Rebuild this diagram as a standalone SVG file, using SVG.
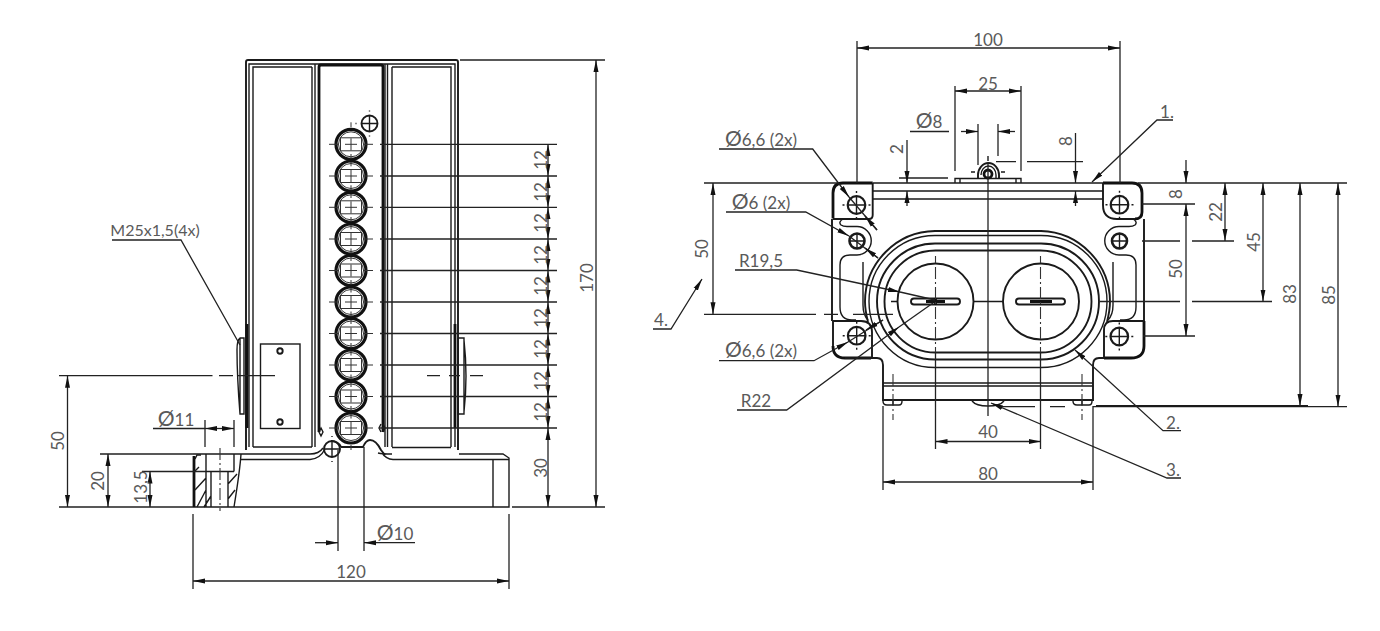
<svg xmlns="http://www.w3.org/2000/svg" xmlns:xlink="http://www.w3.org/1999/xlink" width="1380" height="631" viewBox="0 0 1380 631">
<style>
.l{fill:none;stroke:#1a1a1a;stroke-width:1.4}
.n{fill:none;stroke:#333;stroke-width:1}
.t{fill:none;stroke:#111;stroke-width:2.8}
.m{fill:none;stroke:#1a1a1a;stroke-width:1.9}
.d{fill:none;stroke:#222;stroke-width:1.3}
.a{marker-end:url(#ar)}
.b{marker-start:url(#ar);marker-end:url(#ar)}
.c{fill:none;stroke:#333;stroke-width:1.1;stroke-dasharray:12 3 2 3}
text{font-family:"Lato","Liberation Sans",sans-serif;font-size:17px;fill:#5a5a5a;text-anchor:middle}
.o{font-size:21px}
.s{font-size:16px}
</style>
<defs>
<marker id="ar" markerUnits="userSpaceOnUse" markerWidth="13" markerHeight="7" refX="12" refY="3.500" orient="auto-start-reverse"><path d="M0 1L12 3.500L0 6z" fill="#111"/></marker>
<g id="slot"><circle r="15" class="t" style="stroke-width:3.200"/><circle r="12.500" class="n"/><rect x="-10.500" y="-6.500" width="21" height="13" class="n"/><path d="M-22 0H-12M-6 0H6M12 0H22M0-22V-17M0-6V6M0 17V22" class="n"/></g>
<g id="h9"><circle r="8.800" class="m" style="stroke-width:2.200"/><path d="M-8.500 0H8.500M0-8.500V8.500" class="l"/><path d="M-14 0H-12M12 0H14M0-14V-12M0 12V14" class="l"/></g>
<g id="h7"><circle r="7.500" class="m" style="stroke-width:2.600"/><path d="M-7.500 0H7.500M0-7.500V7.500" class="l"/></g>
</defs>

<g id="side-view">
<path class="m" d="M246 450V62Q246 60 248 60H456Q458 60 458 62V450"/>
<path class="l" d="M249 447V64H455V447M253 447V67H312M392 67H451V447M312 67V447M315 64V447M385 64V447M387.500 64V447M392 67V447"/>
<path class="t" d="M319 432V67Q319 65 321 65H381Q383 65 383 67V432"/>
<path class="l" d="M253 447H312M392 447.500H451"/>
<path class="l" d="M193 454H310Q319 454 323 448M241 459.500H310Q320 459 325 449M382 453Q386 459 393 459.500H509M378 453Q382 454 392 454M459 454H503L509 458V507H193M493 459V507"/>
<path class="l" d="M319 432L321 428L323 432L321 436zM381 432L379 428L381 424M383 424L385 428L383 432"/>
<path class="m" d="M341 447Q346 447 351 447Q358 447 363 447Q366 440 370 440Q376 440 381 450L385 455M341 447Q338 441 331 441"/>
<use xlink:href="#slot" x="351" y="144.300"/><use xlink:href="#slot" x="351" y="176"/><use xlink:href="#slot" x="351" y="207.300"/><use xlink:href="#slot" x="351" y="239"/><use xlink:href="#slot" x="351" y="270.500"/><use xlink:href="#slot" x="351" y="302"/><use xlink:href="#slot" x="351" y="333.500"/><use xlink:href="#slot" x="351" y="365"/><use xlink:href="#slot" x="351" y="396.500"/><use xlink:href="#slot" x="351" y="428"/>
<g transform="translate(369.500 123.500)"><circle r="8" class="m"/><path d="M-8 0H8M0-8V8M0-13V-12M0 12V13M-14 0H-13" class="l"/></g>
<g transform="translate(332 449)"><circle r="8" class="m"/><path d="M-8 0H8M0-8V8M0-13V-12M0 12V13" class="l"/></g>
<rect x="260.500" y="344" width="39.500" height="84.500" class="l"/>
<circle cx="280" cy="351" r="2.700" class="m"/><circle cx="280" cy="422" r="2.700" class="m"/>
<path class="t" d="M247 324V428M455 324V428"/>
<path class="l" d="M240 338H244V414H240Q237 376 237 350Q237 340 240 338ZM240 338V414M458 338H464V414H458V338M464 340Q468 376 464 412"/>
<path class="t" d="M194 456V507"/>
<path class="l" d="M195 459L197 455H201M206 454V507M234 454V471.500M206 471.500H234M211 471.500V507M228 471.500V507M241 454Q240 470 234 507M199 467L195 471M206 478L195 490M206 490L197 507M211 496L204 507M237 474L228 484M235 490L228 499"/>
<path class="c" d="M220 448V511"/>
</g>

<g id="plan-view">
<path class="l" d="M872.700 183H1103M872.700 191H1103M872.700 199H1103M955 183V178.500H1021V183M960 179V183M1016 179V183"/>
<path class="t" d="M833 193Q833 183 843 183H872.700M1103 183H1132Q1142 183 1142 193V212Q1142 219 1135 219M833 193V218.500M833 346Q833 358 845 358H871M1104 358H1131Q1144 358 1144 346V321"/>
<path class="m" d="M833 219H869Q872.700 219 872.700 215V183M1103 183V205Q1103 219 1117 219H1135M833 321H861Q872 321 872 332V358H845M833 321V346M1104 358V330Q1104 321 1113 321H1144"/>
<path class="m" d="M832 219V321M1144 219V321"/>
<path class="l" d="M843 219Q838 222 841 225Q843 226.500 847 226.500H857A14 14 0 0 1 857 255H850Q840 255 840 265V307Q840 320 852 320H856M863 262V305Q863 315 868 320M1133 219Q1138 222 1135 225Q1133 226.500 1129 226.500H1119A14 14 0 0 0 1119 255H1126Q1136 255 1136 265V307Q1136 320 1124 320H1120M1113 262V305Q1113 315 1108 320"/>
<path class="m" d="M872 358H877Q883 358 883 365V400H1093V365Q1093 358 1099 358H1104"/>
<path class="l" d="M883 383H1093M883 386H1093"/>
<path class="l" d="M883 401Q883 405 887 405H899Q902 405 902 401M893 401V405M1073 401Q1073 405 1077 405H1089Q1092 405 1092 401M1082 401V405M972 401Q976 406 988 406Q1000 406 1004 401"/>
<path class="m" d="M868 322Q865 310 865 301.500A71 71 0 0 1 935 231H1041A71 71 0 0 1 1110 301.500Q1110 310 1107 322"/>
<rect x="869" y="235.500" width="238" height="132" rx="66" class="l"/>
<rect x="877" y="243.500" width="222" height="116" rx="58" class="m"/>
<rect x="884.500" y="250.500" width="207" height="102" rx="51" class="m"/>
<circle cx="935.500" cy="301.500" r="38" class="m"/><circle cx="1041" cy="301.500" r="38" class="m"/>
<rect x="911" y="298.500" width="49" height="6" rx="3" class="m"/><rect x="1016" y="298.500" width="49" height="6" rx="3" class="m"/>
<path class="t" d="M935.500 298V305M926 301.500H945M1030 301.500H1052"/>
<path class="c" d="M935.500 256V263M935.500 267V352M1040.500 256V263M1040.500 267V352M893 374V420M1082 374V420"/>
<path class="l" d="M891 301.500H897M973 301.500H1003M979 301.500H981M995 301.500H997"/>
<path class="m" d="M978 175A10.500 12 0 0 1 999 175V179M978 175V179"/>
<path class="l" d="M981 175A7.500 9 0 0 1 996 175V179"/>
<circle cx="988" cy="174" r="4" class="t"/>
<path class="l" d="M971 172H975M1001 172H1005M988 156V161"/>
<use xlink:href="#h9" x="856.500" y="205"/><use xlink:href="#h9" x="1119.500" y="204.700"/><use xlink:href="#h9" x="856.700" y="335.700"/><use xlink:href="#h9" x="1119.300" y="336.500"/>
<use xlink:href="#h7" x="857" y="241"/><use xlink:href="#h7" x="1119.500" y="241"/>
</g>

<g id="connectors">
<path class="d" d="M380 144.300H557M380 176H557M380 207.300H557M380 239H557M380 270.500H557M380 302H557M380 333.500H557M380 365H557M380 396.500H557M380 428H557"/>
<path class="d b" d="M548 144.300V176"/><path class="d b" d="M548 176V207.300"/><path class="d b" d="M548 207.300V239"/><path class="d b" d="M548 239V270.500"/><path class="d b" d="M548 270.500V302"/><path class="d b" d="M548 302V333.500"/><path class="d b" d="M548 333.500V365"/><path class="d b" d="M548 365V396.500"/><path class="d b" d="M548 396.500V428"/><path class="d b" d="M548 428V507"/>
<path class="d" d="M460 60H605M512 507H605M59 507H193M100 454H193M142 471.500H206M59 375.700H212.500M219 375.700H233M238 375.700H275M427 375.700H440M449 375.700H460M470 375.700H483"/>
<path class="d b" d="M596 60V507"/><path class="d b" d="M67.500 375.700V507"/><path class="d b" d="M108 454V507"/><path class="d b" d="M150 471.500V507"/>
<path class="d" d="M205 420V447M234 420V447M153 428.500H205M338 450V551M364 447V551M193 514V589M509 514V589"/>
<path class="d" d="M112 240H181L240 345"/>
<path class="d b" d="M205 428.500H234"/>
<path class="d a" d="M315 542.700H338"/><path class="d a" d="M415 542.700H364"/>
<path class="d b" d="M193 581H509"/>

<path class="d" d="M857 41V183M1120 41V183M955 86V171M1021 86V171M978 124V165M998 124V156M899 178H948M996 161.700H1016M1027 161.700H1083M907 199V206M1075.500 199V206M910 131.500H949"/>
<path class="d" d="M704 183H838M1138 183H1347M1142 204H1195M1143 336H1195M1142 241H1180M1192 241H1234M1100 301.500H1180M1192 301.500H1272M1050 406.700H1065M1000 406.700H1035M1093 406.700H1347M704 314.300H816M824 314.300H838M853 314.300H893M988 162V416M935.500 352V449M1040.500 352V449M883 406V490M1093 406V490"/>
<path class="m" d="M1096 406H1308"/>
<path class="d b" d="M857 48H1120"/><path class="d b" d="M955 91H1021"/>
<path class="d a" d="M961 131.500H978"/><path class="d a" d="M1015 131.500H998"/>
<path class="d a" d="M907 140V183"/><path class="d a" d="M907 199V191"/><path class="d a" d="M1075.500 133V183"/><path class="d a" d="M1075.500 199V191"/>
<path class="d a" d="M1186 160V183"/><path class="d b" d="M1186 204V336"/><path class="d b" d="M1225 183V241"/><path class="d b" d="M1263 183V301.500"/><path class="d b" d="M1300 183V406"/><path class="d b" d="M1338 183V406.700"/>
<path class="d b" d="M713 183V314.300"/>
<path class="d b" d="M935.500 441.500H1040.500"/><path class="d b" d="M883 482H1093"/>
<path class="d a" d="M1173 120H1157L1092 182"/>
<path class="d a" d="M1181 430.700H1163L1075 350"/>
<path class="d a" d="M1181 478H1167L991 403"/>
<path class="d a" d="M653 329H671L702 279"/>
<path class="d a" d="M719 149H812.700L849 197"/><path class="d" d="M849 197L877 230"/><path class="d a" d="M877 230L865 216"/>
<path class="d a" d="M726 212H805.700L849 236"/><path class="d" d="M849 236L878 258"/><path class="d a" d="M878 258L865 248"/>
<path class="d a" d="M735 270H796.700L900 292"/><path class="d" d="M900 292L935 300"/>
<path class="d a" d="M719 360.700H814L848 342"/><path class="d" d="M848 342L883 320"/><path class="d a" d="M883 320L866 330"/>
<path class="d a" d="M737 410H786.700L899 327"/><path class="d" d="M899 327L933 303"/>
</g>

<g id="labels">
<text transform="translate(547 160) rotate(-90)">12</text><text transform="translate(547 192) rotate(-90)">12</text><text transform="translate(547 223) rotate(-90)">12</text><text transform="translate(547 255) rotate(-90)">12</text><text transform="translate(547 286) rotate(-90)">12</text><text transform="translate(547 318) rotate(-90)">12</text><text transform="translate(547 349) rotate(-90)">12</text><text transform="translate(547 381) rotate(-90)">12</text><text transform="translate(547 412) rotate(-90)">12</text>
<text transform="translate(547 468) rotate(-90)">30</text>
<text transform="translate(593 278) rotate(-90)">170</text>
<text transform="translate(64 441) rotate(-90)">50</text><text transform="translate(104 481) rotate(-90)">20</text><text transform="translate(147 487) rotate(-90)">13,5</text>
<text x="155" y="236" class="s">M25x1,5(4x)</text>
<text x="176" y="426"><tspan class="o">Ø</tspan>11</text><text x="395" y="540"><tspan class="o">Ø</tspan>10</text><text x="351" y="578">120</text>
<text x="988" y="46">100</text><text x="988" y="90">25</text><text x="929" y="128"><tspan class="o">Ø</tspan>8</text>
<text transform="translate(903 149) rotate(-90)">2</text><text transform="translate(1072 141) rotate(-90)">8</text>
<text x="761" y="146"><tspan class="o">Ø</tspan>6,6 (2x)</text><text x="761" y="209"><tspan class="o">Ø</tspan>6 (2x)</text><text x="761" y="267">R19,5</text><text x="761" y="357"><tspan class="o">Ø</tspan>6,6 (2x)</text><text x="756" y="407">R22</text>
<text transform="translate(708 249) rotate(-90)">50</text>
<text x="1167" y="118">1.</text><text x="1173" y="429">2.</text><text x="1173" y="476">3.</text><text x="661" y="326">4.</text>
<text transform="translate(1182 194) rotate(-90)">8</text><text transform="translate(1182 269) rotate(-90)">50</text><text transform="translate(1222 212) rotate(-90)">22</text><text transform="translate(1260 242) rotate(-90)">45</text><text transform="translate(1296 294) rotate(-90)">83</text><text transform="translate(1335 295) rotate(-90)">85</text>
<text x="988" y="438">40</text><text x="988" y="480">80</text>
</g>
</svg>
